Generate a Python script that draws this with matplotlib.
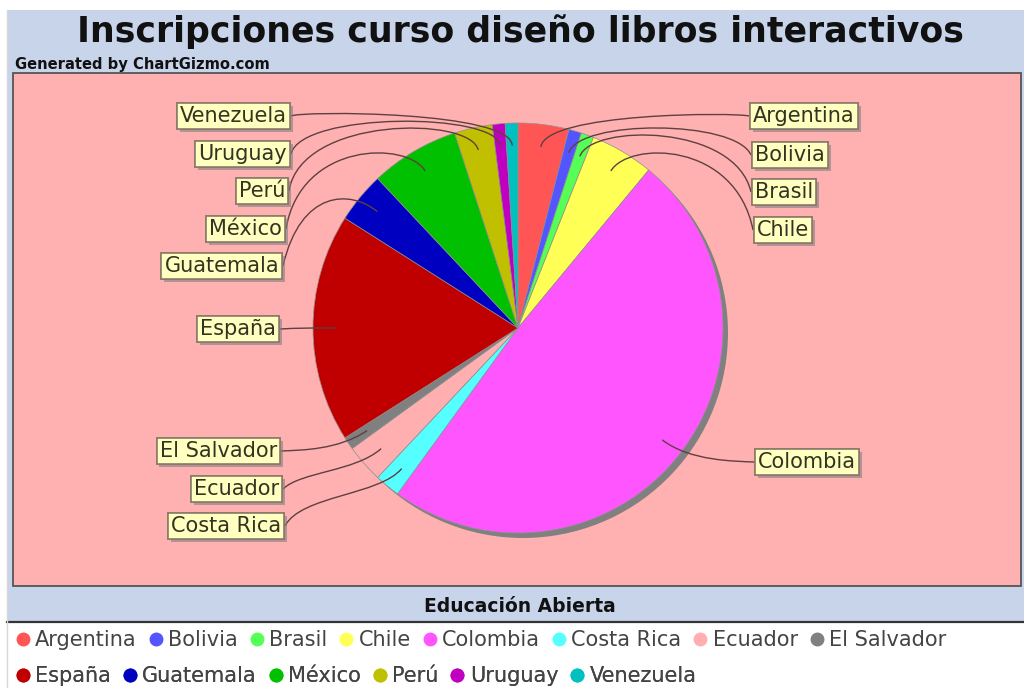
import numpy as np
import matplotlib.pyplot as plt
from matplotlib.patches import Rectangle, PathPatch
from matplotlib.path import Path
from matplotlib.lines import Line2D
import matplotlib.patheffects as pe

# ---------------- datos ----------------
paises = ["Argentina", "Bolivia", "Brasil", "Chile", "Colombia", "Costa Rica",
          "Ecuador", "El Salvador", "España", "Guatemala", "México", "Perú",
          "Uruguay", "Venezuela"]
inscritos = [4, 1, 1, 5, 49, 2, 3, 1, 18, 4, 7, 3, 1, 1]
colores = ["#ff5555", "#5555ff", "#55ff55", "#ffff55", "#ff55ff", "#55ffff",
           "#ffafaf", "#808080", "#c00000", "#0000c0", "#00c000", "#c0c000",
           "#c000c0", "#00c0c0"]

titulo = "Inscripciones curso diseño libros interactivos"
subtitulo = "Generated by ChartGizmo.com"
pie_titulo = "Educación Abierta"

# posicion de cada etiqueta (borde de la caja del lado del pastel, en pixeles)
etiqueta_x = [749, 751, 751, 753, 754, 285, 283, 281, 280, 283, 286, 289, 291, 291]
etiqueta_y = [116, 155, 192, 230, 462, 526, 489, 451, 329, 266, 229, 191, 154, 116]

W, H = 1024, 688
def fy(y):
    return H - y

fig = plt.figure(figsize=(W / 100, H / 100), dpi=100)
ax = fig.add_axes([0, 0, 1, 1])

# fondo
ax.add_patch(Rectangle((7, fy(622)), W - 7, 612, fc="#c8d4ea", ec="none", zorder=0))
ax.add_patch(Rectangle((13, fy(586)), 1008, 513, fc="#ffb0b0", ec="#555555", lw=1.3, zorder=0.5))
ax.plot([7, W], [fy(622), fy(622)], color="#333333", lw=1.6, zorder=0.6)
ax.plot([7, 7], [fy(688), fy(10)], color="#d8d8d8", lw=1, zorder=0.6)

# pastel con sombra
cx, cy, r = 518, fy(328), 205
ax.pie(inscritos, colors=["#808080"] * len(inscritos), startangle=90, counterclock=False,
       center=(cx + 5, cy - 5), radius=r, frame=True,
       wedgeprops=dict(linewidth=0, zorder=1.5))
ax.pie(inscritos, colors=colores, startangle=90, counterclock=False,
       center=(cx, cy), radius=r, frame=True,
       wedgeprops=dict(edgecolor="#909090", linewidth=0.5, zorder=2))

# etiquetas y lineas de enlace (curva cubica: etiqueta -> ancla -> codo -> punto del sector)
total = float(sum(inscritos))
acum = np.cumsum(inscritos) - np.array(inscritos) / 2.0
r_enlace = 1.06 * r
for i, nombre in enumerate(paises):
    ang = np.deg2rad(90 - acum[i] / total * 360)
    fin = (cx + 0.89 * r * np.cos(ang), cy + 0.89 * r * np.sin(ang))
    codo = (cx + r_enlace * np.cos(ang), cy + r_enlace * np.sin(ang))
    derecha = np.cos(ang) > 0
    ancla = (cx + r_enlace if derecha else cx - r_enlace, codo[1])
    lx, ly = etiqueta_x[i], fy(etiqueta_y[i])
    camino = Path([(lx, ly), ancla, codo, fin],
                  [Path.MOVETO, Path.CURVE4, Path.CURVE4, Path.CURVE4])
    ax.add_patch(PathPatch(camino, fc="none", ec="#5e4040", lw=1, zorder=3))
    t = ax.text(lx + 4 if derecha else lx - 4, ly, nombre,
                ha="left" if derecha else "right", va="center",
                fontsize=15, color="#333322", zorder=4,
                bbox=dict(boxstyle="square,pad=0.15", fc="#ffffc0", ec="#8a7a6a", lw=1.2))
    t.get_bbox_patch().set_path_effects([
        pe.withSimplePatchShadow(offset=(2, -2), shadow_rgbFace="#808080", alpha=0.6),
        pe.Normal()])

# textos
ax.text(520, fy(32), titulo, ha="center", va="center", fontsize=25,
        fontweight="bold", color="#111111")
ax.text(15, fy(64), subtitulo, ha="left", va="center", fontsize=10.6,
        fontweight="bold", color="#111111")
ax.text(520, fy(606), pie_titulo, ha="center", va="center", fontsize=13.5,
        fontweight="bold", color="#111111")

# leyenda en dos filas
marcas = [Line2D([], [], marker="o", ls="none", markersize=9,
                 markerfacecolor=c, markeredgecolor=c) for c in colores]
filas = [(range(0, 8), 640), (range(8, 14), 676)]
for idx, ypix in filas:
    ley = ax.legend([marcas[i] for i in idx], [paises[i] for i in idx],
                    loc="center left", bbox_to_anchor=(6 / W, 1 - ypix / H),
                    ncol=len(idx), frameon=False, fontsize=15, borderpad=0,
                    handlelength=0.6, handletextpad=0.3, columnspacing=0.6,
                    labelcolor="#444444")
    ax.add_artist(ley)

ax.set_xlim(0, W)
ax.set_ylim(0, H)
ax.axis("off")

fig.savefig("out.png", dpi=100, facecolor="white")
